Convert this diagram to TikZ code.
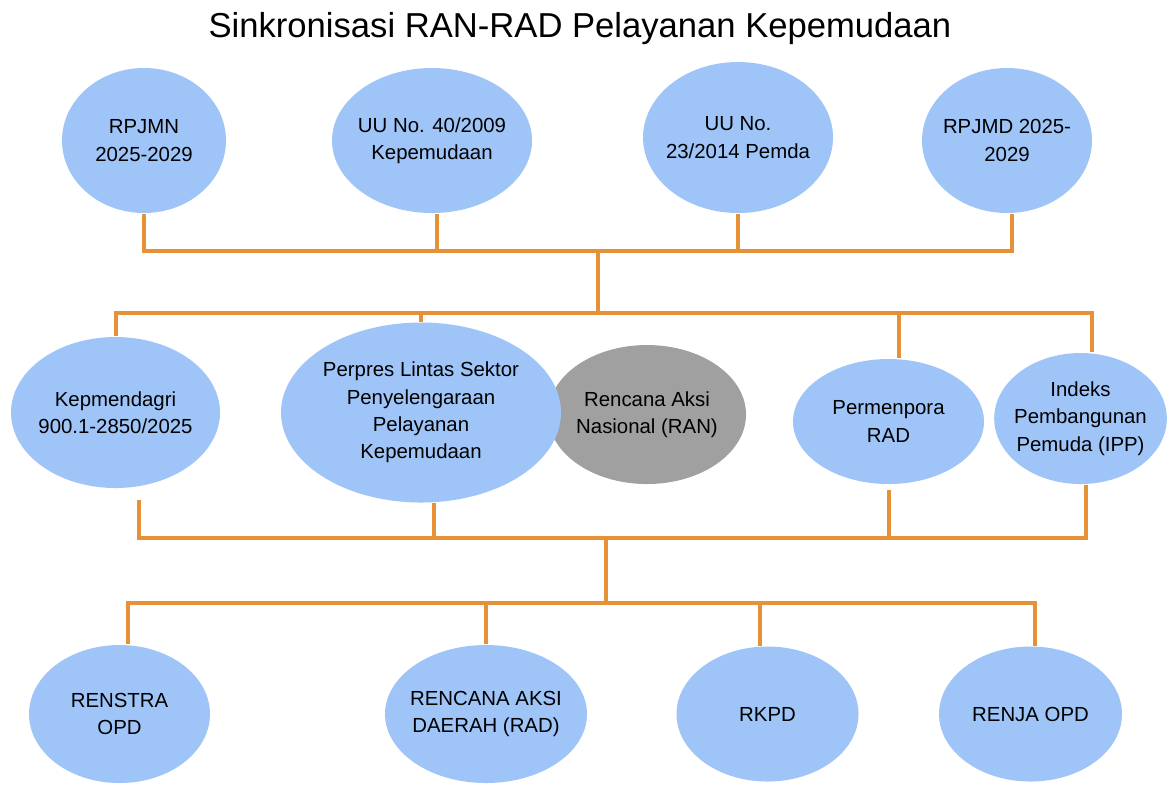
\documentclass[tikz,border=0pt]{standalone}
\usepackage{fontspec}
\setmainfont{Liberation Sans}
\usetikzlibrary{shapes.geometric,positioning}
\definecolor{bubblue}{HTML}{9FC5F8}
\definecolor{rangray}{HTML}{A0A0A0}
\definecolor{linkorange}{HTML}{E69138}

\begin{document}
\begin{tikzpicture}[node distance=3cm,on grid]
      \tikzset{bubble/.style={ellipse,fill=bubblue,align=center,inner xsep=-1.5pt,inner ysep=0pt,font=\fontsize{5.8}{7.8}\selectfont}}
      \tikzset{link/.style={draw=linkorange,line width=0.4mm}}
      \useasboundingbox[fill=white] (0,0) rectangle (11.70,-7.84);

      \node[anchor=base] (title) at (5.80,-0.37) {\fontsize{9.85}{12}\selectfont Sinkronisasi RAN-RAD Pelayanan Kepemudaan};

      % dasar hukum
      \node[bubble,minimum width=1.64cm,minimum height=1.45cm] (rpjmn) at (1.44,-1.405) {RPJMN\\2025-2029};
      \node[bubble,minimum width=2.0cm,minimum height=1.45cm] (uu40) [right = 2.88cm of rpjmn] {UU No. 40/2009\\Kepemudaan};
      \node[bubble,minimum width=1.9cm,minimum height=1.51cm] (uu23) [right = 3.06cm of uu40, yshift=0.3mm] {UU No.\\23/2014 Pemda};
      \node[bubble,minimum width=1.7cm,minimum height=1.45cm] (rpjmd) [right = 5.75cm of uu40] {RPJMD 2025-\\2029};

      % acuan
      \node[bubble,minimum width=2.09cm,minimum height=1.51cm] (kep) at (1.155,-4.125) {Kepmendagri\\900.1-2850/2025};
      \node[ellipse,fill=rangray,align=center,inner xsep=-1.5pt,inner ysep=0pt,font=\fontsize{5.8}{7.8}\selectfont,minimum width=1.98cm,minimum height=1.39cm] (ran) [right = 5.315cm of kep, yshift=-0.2mm] {Rencana Aksi\\Nasional (RAN)};
      \node[bubble,minimum width=2.8cm,minimum height=1.8cm] (perpres) [right = 3.055cm of kep] {Perpres Lintas Sektor\\Penyelengaraan\\Pelayanan\\Kepemudaan};
      \node[bubble,minimum width=1.91cm,minimum height=1.25cm] (perm) [right = 7.73cm of kep, yshift=-0.9mm] {Permenpora\\RAD};
      \node[bubble,minimum width=1.72cm,minimum height=1.31cm] (ipp) [right = 1.92cm of perm, yshift=0.3mm] {Indeks\\Pembangunan\\Pemuda (IPP)};

      % dokumen daerah
      \node[bubble,minimum width=1.81cm,minimum height=1.38cm] (renstra) at (1.195,-7.14) {RENSTRA\\OPD};
      \node[bubble,minimum width=2.02cm,minimum height=1.38cm] (rad) [right = 3.665cm of renstra] {RENCANA AKSI\\DAERAH (RAD)};
      \node[bubble,minimum width=1.82cm,minimum height=1.35cm] (rkpd) [right = 2.815cm of rad] {RKPD};
      \node[bubble,minimum width=1.83cm,minimum height=1.35cm] (renja) [right = 2.63cm of rkpd] {RENJA OPD};

      \coordinate (j1) at (5.975,-2.51);
      \coordinate (j2) at (5.975,-3.13);
      \coordinate (j3) at (6.06,-5.375);
      \coordinate (j4) at (6.06,-6.03);

      \draw[link] (j1) -| (rpjmn);
      \draw[link] (j1) -| ([xshift=0.5mm]uu40.south);
      \draw[link] (j1) -| (uu23);
      \draw[link] (j1) -| ([xshift=0.45mm]rpjmd.south);
      \draw[link] (j1) -- (j2);

      \draw[link] (j2) -| (kep);
      \draw[link] (j2) -| (perpres);
      \draw[link] (j2) -| ([xshift=1mm]perm.north);
      \draw[link] (j2) -| ([xshift=1.15mm]ipp.north);

      \draw[link] (j3) -| ([xshift=2.3mm,yshift=-1.1mm]kep.south);
      \draw[link] (j3) -| ([xshift=1.3mm]perpres.south);
      \draw[link] (j3) -| ([yshift=-0.5mm]perm.south);
      \draw[link] (j3) -| ([xshift=0.5mm]ipp.south);
      \draw[link] (j3) -- (j4);

      \draw[link] (j4) -| ([xshift=0.85mm]renstra.north);
      \draw[link] (j4) -| (rad);
      \draw[link] (j4) -| ([xshift=-0.8mm]rkpd.north);
      \draw[link] (j4) -| ([xshift=0.45mm]renja.north);
\end{tikzpicture}
\end{document}
